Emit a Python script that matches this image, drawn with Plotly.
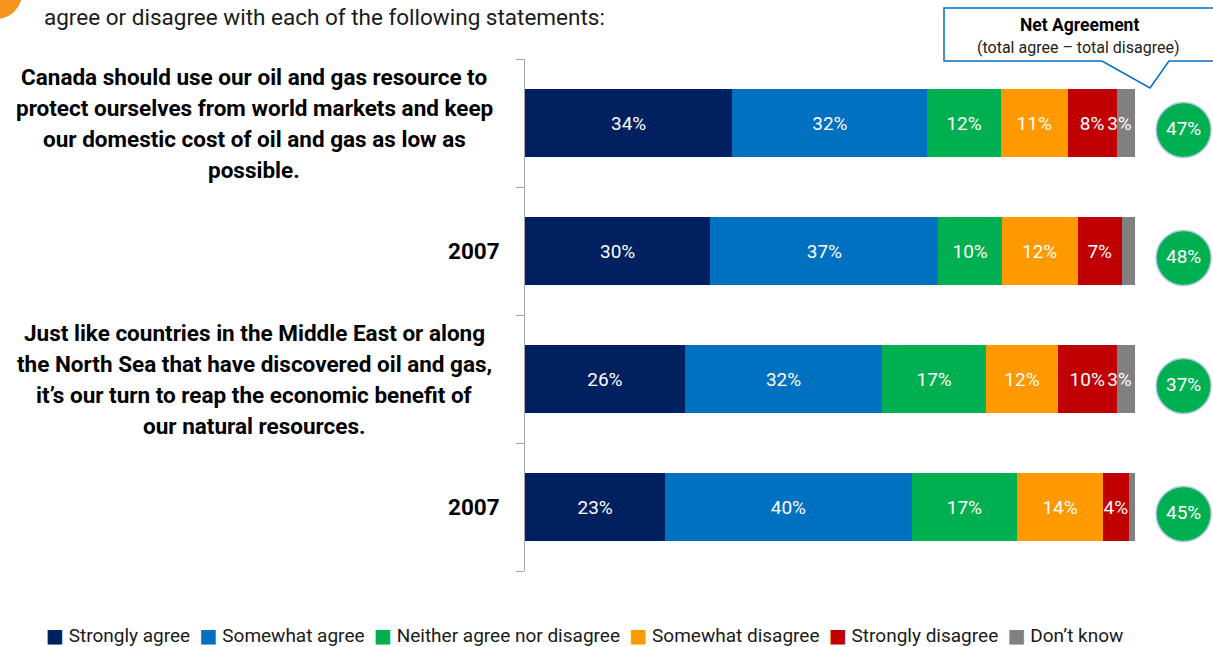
import plotly.graph_objects as go

# ---- data -------------------------------------------------------------
categories = [
    "Canada should use our oil and gas resource to<br>protect ourselves from world markets and keep<br>"
    "our domestic cost of oil and gas as low as<br>possible.",
    "2007",
    "Just like countries in the Middle East or along<br>the North Sea that have discovered oil and gas,<br>"
    "it’s our turn to reap the economic benefit of<br>our natural resources.",
    "2007",
]
series_names = [
    "Strongly agree",
    "Somewhat agree",
    "Neither agree nor disagree",
    "Somewhat disagree",
    "Strongly disagree",
    "Don’t know",
]
strongly_agree = [34.0, 30.4, 26.2, 23.0]
somewhat_agree = [32.0, 37.4, 32.4, 40.4]
neither = [12.0, 10.4, 17.0, 17.3]
somewhat_disagree = [11.0, 12.4, 11.8, 14.1]
strongly_disagree = [8.0, 7.3, 9.6, 4.2]
dont_know = [3.0, 2.1, 3.0, 1.0]

series_values = [strongly_agree, somewhat_agree, neither,
                 somewhat_disagree, strongly_disagree, dont_know]
series_colors = ["#002060", "#0070C0", "#00B050", "#FF9900", "#C00000", "#808080"]

# net agreement = total agree - total disagree
net_agreement = [a + b - d - e for a, b, d, e in
                 zip(strongly_agree, somewhat_agree, somewhat_disagree, strongly_disagree)]

title_text = "agree or disagree with each of the following statements:"
callout_title = "Net Agreement"
callout_sub = "(total agree – total disagree)"

# ---- layout geometry ---------------------------------------------------
W, H = 1213, 647
M = dict(l=525, r=5, t=59, b=76)
PW = W - M["l"] - M["r"]
PH = H - M["t"] - M["b"]
X_MAX = 112          # room on the right of the 100% bars for the net circles
NET_X = 108.0        # column of the net-agreement circles
NET_DY = 0.055       # circles sit slightly below the bar centre
MIN_LABEL = 2.5      # segments thinner than this carry no label

FONT = "Roboto, DejaVu Sans, sans-serif"


def fx(px):
    return (px - M["l"]) / PW


def fy(py):
    return 1 - (py - M["t"]) / PH


rows = list(range(len(categories)))

fig = go.Figure()

n_series = len(series_names)
for i, (name, vals, col) in enumerate(zip(series_names, series_values, series_colors)):
    last = i == n_series - 1
    fig.add_trace(go.Bar(
        name=name,
        orientation="h",
        y=rows,
        x=vals,
        width=0.53,
        marker=dict(color=col, line=dict(width=0)),
        text=[f"{v:.0f}%" if v >= MIN_LABEL else "" for v in vals],
        textposition="inside",
        # the thin end segment keeps its label inside the bar's right edge
        insidetextanchor="end" if last else "middle",
        textangle=0,
        constraintext="none",
        textfont=dict(color="white", size=19, family=FONT),
        hoverinfo="skip",
        showlegend=False,
    ))

fig.add_trace(go.Scatter(
    x=[NET_X] * len(rows),
    y=[r + NET_DY for r in rows],
    mode="markers+text",
    marker=dict(size=55, color="#00B050", line=dict(color="#A9C6EA", width=1.5)),
    text=[f"{v:.0f}%" for v in net_agreement],
    textposition="middle center",
    textfont=dict(color="white", size=19, family=FONT),
    cliponaxis=False,
    hoverinfo="skip",
    showlegend=False,
))

annotations = []

# category labels: multi-line statements are centred, single labels right-aligned
LINE_GAP = 31
LABEL_SIZE = 22.5
for r, label in zip(rows, categories):
    lines = label.split("<br>")
    if len(lines) == 1:
        annotations.append(dict(
            x=fx(502), xref="paper", xanchor="right",
            y=r, yref="y", yanchor="middle",
            text=f"<b>{lines[0]}</b>", showarrow=False,
            font=dict(size=LABEL_SIZE, color="#000000", family=FONT)))
    else:
        n = len(lines)
        for k, line in enumerate(lines):
            annotations.append(dict(
                x=fx(254), xref="paper", xanchor="center",
                y=r, yref="y", yanchor="middle",
                yshift=-(k - (n - 1) / 2) * LINE_GAP,
                text=f"<b>{line}</b>", showarrow=False,
                font=dict(size=LABEL_SIZE, color="#000000", family=FONT)))

# header line
annotations.append(dict(
    x=fx(42), xref="paper", xanchor="left",
    y=fy(17), yref="paper", yanchor="middle",
    text=title_text, showarrow=False,
    font=dict(size=22.5, color="#1a1a1a", family=FONT)))

# callout text
annotations.append(dict(
    x=fx(1079), xref="paper", xanchor="center",
    y=fy(25), yref="paper", yanchor="middle",
    text=f"<b>{callout_title}</b>", showarrow=False,
    font=dict(size=17.5, color="#000000", family=FONT)))
annotations.append(dict(
    x=fx(1078), xref="paper", xanchor="center",
    y=fy(47), yref="paper", yanchor="middle",
    text=callout_sub, showarrow=False,
    font=dict(size=16, color="#222222", family=FONT)))

# legend row
legend_parts = [f"<span style='color:{c}'>■</span>&nbsp;{n}"
                for n, c in zip(series_names, series_colors)]
annotations.append(dict(
    x=fx(44), xref="paper", xanchor="left",
    y=fy(635), yref="paper", yanchor="middle",
    text="&nbsp;&nbsp;".join(legend_parts), showarrow=False,
    font=dict(size=19, color="#1a1a1a", family=FONT)))

# callout box with its pointer
pts = [(944, 8), (1230, 8), (1230, 61), (1169, 61), (1150, 88), (1102, 61), (944, 61)]
path = "M" + " L".join(f"{fx(x):.5f},{fy(y):.5f}" for x, y in pts) + " Z"

shapes = [
    dict(type="path", xref="paper", yref="paper", path=path,
         fillcolor="white", line=dict(color="#0070C0", width=1.5), layer="above"),
    # orange badge peeking in at the top-left corner
    dict(type="circle", xref="paper", yref="paper",
         x0=fx(-30), x1=fx(22), y0=fy(19), y1=fy(-33),
         fillcolor="#F7941D", line=dict(width=0), layer="above"),
]

fig.update_layout(
    width=W, height=H,
    margin=M,
    barmode="stack",
    paper_bgcolor="white",
    plot_bgcolor="white",
    showlegend=False,
    xaxis=dict(range=[0, X_MAX], visible=False, fixedrange=True),
    yaxis=dict(
        range=[len(rows) - 0.5, -0.5],
        tickvals=[r - 0.5 for r in rows] + [len(rows) - 0.5],
        ticks="outside", ticklen=8, tickcolor="#A6A6A6",
        showticklabels=False, showgrid=False, zeroline=False,
        showline=True, linecolor="#A6A6A6", linewidth=1,
        fixedrange=True,
    ),
    annotations=annotations,
    shapes=shapes,
)

fig.write_html("out.html")
